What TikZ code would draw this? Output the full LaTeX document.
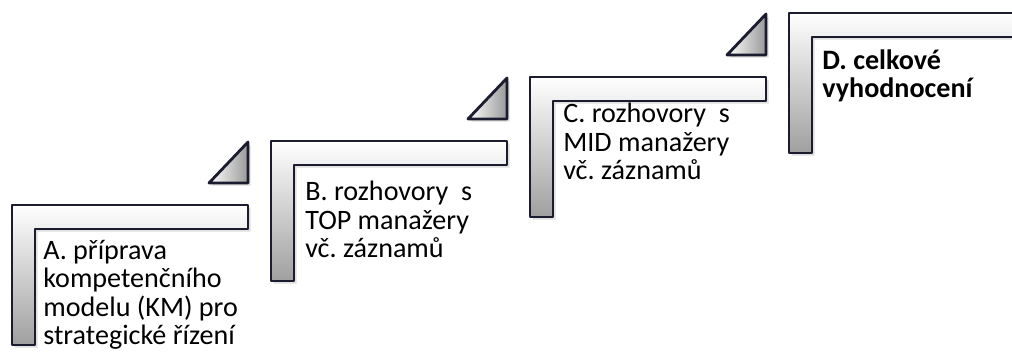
\documentclass[tikz,border=0pt]{standalone}
\usepackage{fontspec}
\setmainfont{Carlito}
\usetikzlibrary{shadows}
\definecolor{edgeblue}{HTML}{1C1C30}
\frenchspacing

\begin{document}
\begin{tikzpicture}[x=0.02cm, y=-0.02cm,
	stair/.style={draw=edgeblue, line width=1.6pt, line join=round, top color=white, bottom color=gray!75,
		drop shadow={opacity=0.25, shadow xshift=1.5pt, shadow yshift=-1.5pt}},
	wedge/.style={draw=edgeblue, line width=1.6pt, line join=round, left color=white, right color=gray!80,
		drop shadow={opacity=0.25, shadow xshift=1.5pt, shadow yshift=-1.5pt}},
	stairtext/.style={anchor=base west, inner sep=0pt, align=left, font=\fontsize{16}{16.3}\selectfont}]
	\useasboundingbox (0,0) rectangle (1012,354);
	% the four steps
	\foreach \i in {0,...,3}{
		\pgfmathsetmacro{\xo}{12+259*\i}
		\pgfmathsetmacro{\yo}{205-64*\i}
		\path[stair] (\xo,\yo) -- ++(236,0) -- ++(0,24) -- ++(-213,0) -- ++(0,116) -- ++(-23,0) -- cycle;
	}
	% small wedges above the steps
	\foreach \i in {0,...,2}{
		\pgfmathsetmacro{\xo}{12+259*\i}
		\pgfmathsetmacro{\yo}{205-64*\i}
		\path[wedge] (\xo+197,\yo-22) -- (\xo+236,\yo-22) -- (\xo+236,\yo-63) -- cycle;
	}
	% texts, placed by the baseline of their last line
	\node[stairtext] (A) at (43,345) {A. příprava\\kompetenčního\\modelu (KM) pro\\strategické řízení};
	\node[stairtext] (B) at (305,258) {B. rozhovory~ s\\TOP manažery\\vč. záznamů};
	\node[stairtext] (C) at (563,180) {C. rozhovory~ s\\MID manažery\\vč. záznamů};
	\node[stairtext, font=\fontsize{16}{16.3}\selectfont\bfseries] (D) at (822,98) {D. celkové\\vyhodnocení};
\end{tikzpicture}
\end{document}
